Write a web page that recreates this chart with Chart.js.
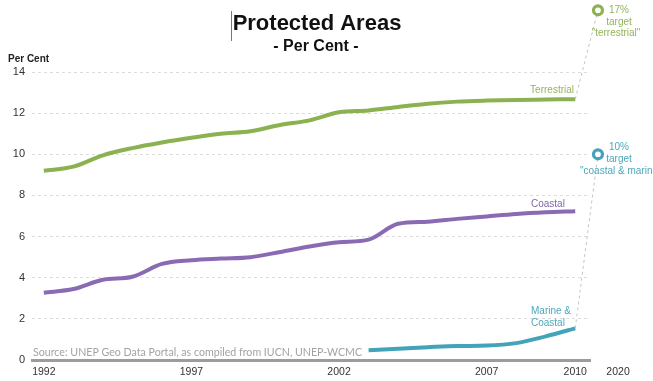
<!DOCTYPE html>
<html>
<head>
<meta charset="utf-8">
<title>Protected Areas</title>
<script src="https://cdn.jsdelivr.net/npm/chart.js@4.4.1/dist/chart.umd.min.js"></script>
<style>
  html, body { margin: 0; padding: 0; background: #fff; }
  #wrap { width: 653px; height: 381px; }
</style>
</head>
<body>
<div id="wrap"><canvas id="protectedChart" width="653" height="381"></canvas></div>
<script>
const years = [1992, 1993, 1994, 1995, 1996, 1997, 1998, 1999, 2000, 2001,
               2002, 2003, 2004, 2005, 2006, 2007, 2008, 2009, 2010];
const terrestrial = [9.2, 9.4, 9.95, 10.3, 10.57, 10.8, 11.0, 11.12, 11.42, 11.65,
                     12.04, 12.13, 12.3, 12.46, 12.56, 12.61, 12.64, 12.66, 12.68];
const coastal = [3.27, 3.45, 3.9, 4.05, 4.67, 4.85, 4.93, 5.0, 5.25, 5.52,
                 5.72, 5.85, 6.62, 6.72, 6.86, 6.98, 7.1, 7.18, 7.23];
const marine = [null, null, null, null, null, null, null, null, null, null,
                null, 0.47, 0.55, 0.62, 0.68, 0.7, 0.82, 1.15, 1.54];
const targetYear = 2020;
const terrestrialTarget = 17;
const marineTarget = 10;
const tickYears = [1992, 1997, 2002, 2007, 2010, 2020];
const yTicks = [0, 2, 4, 6, 8, 10, 12, 14];

const green = '#8cb150';
const purple = '#8a6bb3';
const teal = '#43a3b8';

// the axis is broken after 2010, so 2020 sits just right of the plot
function axisPos(year) {
    return year <= 2010 ? year : 2010 + (year - 2010) * 0.077;
}
function tickPos(year) {
    return year <= 2010 ? year : 2010 + (year - 2010) * 0.145;
}

function toPoints(values) {
    return years.map((y, i) => ({ x: y, y: values[i] })).filter(p => p.y !== null);
}

const lastYear = years[years.length - 1];

const textPlugin = {
    id: 'texts',
    afterDraw(chart) {
        const ctx = chart.ctx;
        const xs = chart.scales.x;
        const ys = chart.scales.y;
        ctx.save();
        // title
        ctx.fillStyle = '#111';
        ctx.textAlign = 'center';
        ctx.textBaseline = 'middle';
        ctx.font = 'bold 22px "Liberation Sans", Arial, sans-serif';
        ctx.fillText('Protected Areas', 317, 24);
        ctx.font = 'bold 16px "Liberation Sans", Arial, sans-serif';
        ctx.fillText('- Per Cent -', 316, 47);
        ctx.strokeStyle = '#777';
        ctx.lineWidth = 1;
        ctx.beginPath();
        ctx.moveTo(231.5, 11);
        ctx.lineTo(231.5, 41);
        ctx.stroke();

        // axis title
        ctx.textAlign = 'left';
        ctx.fillStyle = '#222';
        ctx.font = 'bold 10px "Liberation Sans", Arial, sans-serif';
        ctx.fillText('Per Cent', 8, 59);

        // source
        ctx.fillStyle = '#a3a3a3';
        ctx.font = '12px Lato, sans-serif';
        ctx.textBaseline = 'alphabetic';
        ctx.fillText('Source: UNEP Geo Data Portal, as compiled from IUCN, UNEP-WCMC', 33, 356, 329);

        // series labels
        ctx.textBaseline = 'middle';
        ctx.font = '10px "Liberation Sans", Arial, sans-serif';
        ctx.fillStyle = '#93b55a';
        ctx.textAlign = 'right';
        ctx.fillText('Terrestrial', 574, 90);
        ctx.textAlign = 'left';
        ctx.fillStyle = '#7f67a8';
        ctx.fillText('Coastal', 531, 204);
        ctx.fillStyle = '#4ba8bc';
        ctx.fillText('Marine &', 531, 311);
        ctx.fillText('Coastal', 531, 323);

        // target markers, placed through the chart scales
        const tx = xs.getPixelForValue(axisPos(targetYear));
        [[terrestrialTarget, green], [marineTarget, teal]].forEach(([v, c]) => {
            ctx.beginPath();
            ctx.arc(tx, ys.getPixelForValue(v), 4.5, 0, Math.PI * 2);
            ctx.fillStyle = '#fff';
            ctx.fill();
            ctx.lineWidth = 3.2;
            ctx.strokeStyle = c;
            ctx.stroke();
        });

        // target labels
        ctx.textAlign = 'center';
        ctx.fillStyle = '#93b55a';
        ctx.fillText('17%', 619, 10);
        ctx.fillText('target', 619, 22);
        ctx.fillText('"terrestrial"', 616, 33);
        ctx.fillStyle = '#4ba8bc';
        ctx.fillText('10%', 619, 147);
        ctx.fillText('target', 619, 159);
        ctx.textAlign = 'left';
        ctx.fillText('"coastal & marine"', 580, 171);
        ctx.restore();
    }
};

new Chart(document.getElementById('protectedChart'), {
    type: 'line',
    data: {
        datasets: [
            {
                data: [{ x: lastYear, y: terrestrial[terrestrial.length - 1] },
                       { x: axisPos(targetYear), y: terrestrialTarget }],
                borderColor: '#c4c4c4',
                borderWidth: 1,
                borderDash: [3, 3],
                pointRadius: 0,
                tension: 0,
                clip: false
            },
            {
                data: [{ x: lastYear, y: marine[marine.length - 1] },
                       { x: axisPos(targetYear), y: marineTarget }],
                borderColor: '#c4c4c4',
                borderWidth: 1,
                borderDash: [3, 3],
                pointRadius: 0,
                tension: 0,
                clip: false
            },
            {
                label: 'Terrestrial',
                data: toPoints(terrestrial),
                borderColor: green,
                borderWidth: 4,
                pointRadius: 0,
                cubicInterpolationMode: 'monotone'
            },
            {
                label: 'Coastal',
                data: toPoints(coastal),
                borderColor: purple,
                borderWidth: 4,
                pointRadius: 0,
                cubicInterpolationMode: 'monotone'
            },
            {
                label: 'Marine & Coastal',
                data: toPoints(marine),
                borderColor: teal,
                borderWidth: 4,
                pointRadius: 0,
                cubicInterpolationMode: 'monotone'
            }
        ]
    },
    options: {
        responsive: false,
        animation: false,
        layout: { padding: { top: 72, right: 63, bottom: 0, left: 0 } },
        plugins: {
            legend: { display: false },
            tooltip: { enabled: false }
        },
        scales: {
            x: {
                type: 'linear',
                min: 1991.6,
                max: 2010.5,
                grid: { display: false, drawTicks: false, tickLength: 0 },
                border: { display: true, color: '#9c9c9c', width: 3 },
                afterBuildTicks: scale => {
                    scale.ticks = tickYears.map(y => ({ value: tickPos(y) }));
                },
                afterFit: scale => {
                    scale.height = 21;
                    scale.paddingLeft = 0;
                    scale.paddingRight = 0;
                },
                ticks: {
                    autoSkip: false,
                    maxRotation: 0,
                    padding: 6,
                    color: '#333',
                    font: { family: '"Liberation Sans", Arial, sans-serif', size: 10.5 },
                    callback: (value, index) => String(tickYears[index])
                }
            },
            y: {
                min: 0,
                max: 14,
                afterBuildTicks: scale => {
                    scale.ticks = yTicks.map(v => ({ value: v }));
                },
                afterFit: scale => {
                    scale.width = 32;
                    scale.paddingTop = 0;
                    scale.paddingBottom = 0;
                },
                grid: {
                    drawTicks: false,
                    color: ctx => ctx.tick && ctx.tick.value === 0 ? 'rgba(0,0,0,0)' : '#dcdcdc'
                },
                border: { display: false, dash: [3, 3] },
                ticks: {
                    padding: 7,
                    color: '#333',
                    font: { family: '"Liberation Sans", Arial, sans-serif', size: 11 }
                }
            }
        }
    },
    plugins: [textPlugin]
});
</script>
</body>
</html>
